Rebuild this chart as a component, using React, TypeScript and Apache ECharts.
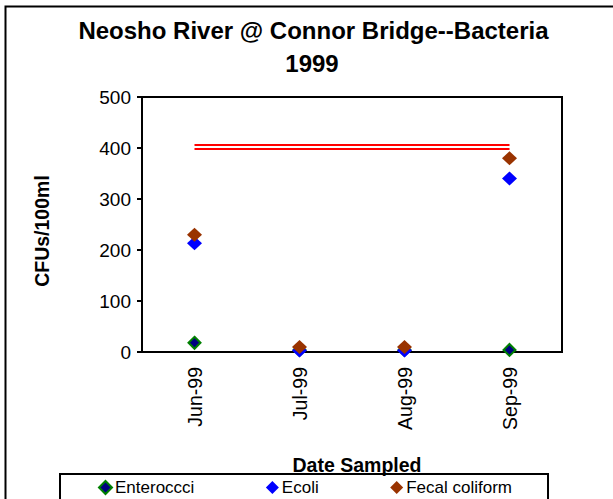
import React, { useEffect, useRef } from "react";
import * as echarts from "echarts";

const categories = ["Jun-99", "Jul-99", "Aug-99", "Sep-99"];
const enterococci = [18, 4, 4, 4];
const ecoli = [213, 3, 3, 340];
const fecalColiform = [230, 10, 10, 380];
const standardUpper = [406, 406, 406, 406];
const standardLower = [398, 398, 398, 398];
const yTicks = { min: 0, max: 500, interval: 100 };

const FONT = "'Liberation Sans', Arial, Helvetica, sans-serif";

export default function App() {
  const ref = useRef<HTMLDivElement>(null);
  useEffect(() => {
    if (!ref.current) return;
    const chart = echarts.init(ref.current, null, { renderer: "svg" });
    chart.setOption({
      animation: false,
      backgroundColor: "#fff",
      textStyle: { fontFamily: FONT, color: "#000" },
      grid: {
        left: 142,
        top: 97,
        right: 51,
        bottom: 147,
        show: true,
        borderColor: "#000",
        borderWidth: 2,
        backgroundColor: "transparent",
      },
      xAxis: {
        type: "category",
        data: categories,
        boundaryGap: true,
        axisLine: { lineStyle: { color: "#000", width: 2 } },
        axisTick: { show: false },
        axisLabel: {
          rotate: 90,
          margin: 15,
          fontSize: 19.5,
          color: "#000",
          fontFamily: FONT,
        },
        splitLine: { show: false },
      },
      yAxis: {
        type: "value",
        min: yTicks.min,
        max: yTicks.max,
        interval: yTicks.interval,
        axisLine: { show: true, lineStyle: { color: "#000", width: 2 } },
        axisTick: { show: true, length: 5, lineStyle: { color: "#000", width: 2 } },
        axisLabel: { margin: 11, fontSize: 19, color: "#000", fontFamily: FONT },
        splitLine: { show: false },
      },
      legend: {
        data: ["Enteroccci", "Ecoli", "Fecal coliform"],
        left: 60,
        top: 474,
        orient: "horizontal",
        itemGap: 71.5,
        itemWidth: 13,
        itemHeight: 13,
        padding: [5, 36, 12, 38],
        borderColor: "#000",
        borderWidth: 2,
        borderRadius: 0,
        textStyle: { fontSize: 17, color: "#000", fontFamily: FONT, padding: [0, 0, 0, -2] },
      },
      series: [
        {
          name: "Enteroccci",
          type: "scatter",
          data: enterococci,
          symbol: "diamond",
          symbolSize: 12,
          itemStyle: { color: "#000080", borderColor: "#008000", borderWidth: 2, opacity: 1 },
        },
        {
          name: "Ecoli",
          type: "scatter",
          data: ecoli,
          symbol: "diamond",
          symbolSize: [15, 14],
          itemStyle: { color: "#0000FF", opacity: 1 },
        },
        {
          name: "Fecal coliform",
          type: "scatter",
          data: fecalColiform,
          symbol: "diamond",
          symbolSize: [15, 14],
          itemStyle: { color: "#993300", opacity: 1 },
        },
        {
          name: "Standard upper",
          type: "line",
          data: standardUpper,
          showSymbol: false,
          symbol: "none",
          lineStyle: { color: "#FF0000", width: 2 },
          z: 1,
        },
        {
          name: "Standard lower",
          type: "line",
          data: standardLower,
          showSymbol: false,
          symbol: "none",
          lineStyle: { color: "#FF0000", width: 2 },
          z: 1,
        },
      ],
      graphic: [
        {
          type: "rect",
          shape: { x: 5.5, y: 6.5, width: 700, height: 600 },
          style: { fill: "none", stroke: "#000", lineWidth: 2 },
          silent: true,
        },
        {
          type: "text",
          x: 313.5,
          y: 30,
          style: {
            text: "Neosho River @ Connor Bridge--Bacteria",
            fontSize: 24,
            fontWeight: "bold",
            fontFamily: FONT,
            fill: "#000",
            align: "center",
            verticalAlign: "middle",
          },
        },
        {
          type: "text",
          x: 312,
          y: 63,
          style: {
            text: "1999",
            fontSize: 24,
            fontWeight: "bold",
            fontFamily: FONT,
            fill: "#000",
            align: "center",
            verticalAlign: "middle",
          },
        },
        {
          type: "text",
          x: 42,
          y: 231,
          rotation: Math.PI / 2,
          style: {
            text: "CFUs/100ml",
            fontSize: 19.5,
            fontWeight: "bold",
            fontFamily: FONT,
            fill: "#000",
            align: "center",
            verticalAlign: "middle",
          },
        },
        {
          type: "text",
          x: 357,
          y: 465,
          style: {
            text: "Date Sampled",
            fontSize: 19.5,
            fontWeight: "bold",
            fontFamily: FONT,
            fill: "#000",
            align: "center",
            verticalAlign: "middle",
          },
        },
      ],
    });
    return () => chart.dispose();
  }, []);
  return (
    <div
      ref={ref}
      style={{ position: "fixed", left: 0, top: 0, width: 613, height: 499 }}
    />
  );
}
